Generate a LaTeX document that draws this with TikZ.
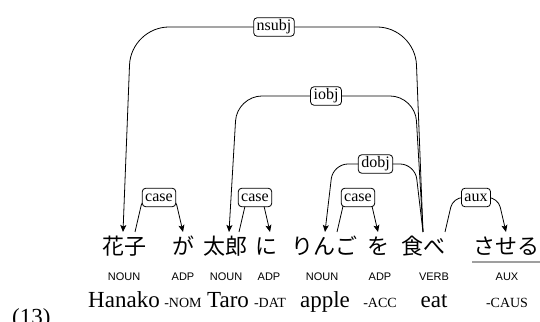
\documentclass[tikz,border=0pt]{standalone}
\usepackage{fontspec}
\setmainfont{Liberation Serif}
\newfontfamily\jpfont{Noto Sans CJK JP}
\newfontfamily\posfont{Liberation Sans}
\usetikzlibrary{arrows.meta,calc,backgrounds}
\begin{document}
\begin{tikzpicture}[x=1pt,y=1pt,
  word/.style={anchor=base,inner sep=0pt,font=\jpfont\fontsize{22}{22}\selectfont},
  postag/.style={anchor=base,inner sep=0pt,font=\posfont\fontsize{11}{11}\selectfont},
  gloss/.style={anchor=base,inner sep=0pt,font=\fontsize{23}{23}\selectfont},
  morph/.style={anchor=base,inner sep=0pt,font=\fontsize{14}{14}\selectfont},
  deplabel/.style={draw,fill=white,rounded corners=3.5pt,line width=0.8pt,inner xsep=3pt,inner ysep=2pt,text height=11pt,text depth=3.5pt,font=\fontsize{16}{16}\selectfont},
  deparc/.style={line width=0.8pt,-{Stealth[length=7pt,width=6pt,inset=1.5pt]}}
]
\useasboundingbox (0,0) rectangle (540,321);

% Japanese words
\node[word] (w1) at (124,66) {花子};
\node[word] (w2) at (183,66) {が};
\node[word] (w3) at (225,66) {太郎};
\node[word] (w4) at (266,66) {に};
\node[word] (w5) at (324,66) {りんご};
\node[word] (w6) at (378,66) {を};
\node[word] (w7) at (423,66) {食べ};
\node[word] (w8) at (506,66) {させる};

% POS tags
\node[postag] (p1) at (124,41) {NOUN};
\node[postag] (p2) at (183,41) {ADP};
\node[postag] (p3) at (226,41) {NOUN};
\node[postag] (p4) at (269,41) {ADP};
\node[postag] (p5) at (322,41) {NOUN};
\node[postag] (p6) at (380,41) {ADP};
\node[postag] (p7) at (434,41) {VERB};
\node[postag] (p8) at (507,41) {AUX};

% glosses
\node[gloss] (g1) at (124,14) {Hanako};
\node[morph] (g2) at (183,14) {-NOM};
\node[gloss] (g3) at (228,14) {Taro};
\node[morph] (g4) at (270,14) {-DAT};
\node[gloss] (g5) at (325,14) {apple};
\node[morph] (g6) at (380,14) {-ACC};
\node[gloss] (g7) at (434,14) {eat};
\node[morph] (g8) at (507,14) {-CAUS};

\node[gloss,anchor=base west] (exnum) at (12,-3) {(13)};

% underline
\coordinate (ulA) at (472,59);
\coordinate (ulB) at (540,59);
\draw[gray!75,line width=1.5pt] (ulA) -- (ulB);

% attachment points
\coordinate (w1in)  at ([xshift=-1pt,yshift=23pt]w1.base);
\coordinate (w1out) at ([xshift=11pt,yshift=23pt]w1.base);
\coordinate (w2in)  at ([yshift=23pt]w2.base);
\coordinate (w3in)  at ([xshift=4pt,yshift=23pt]w3.base);
\coordinate (w3out) at ([xshift=14pt,yshift=23pt]w3.base);
\coordinate (w4in)  at ([xshift=4pt,yshift=23pt]w4.base);
\coordinate (w5in)  at ([xshift=1pt,yshift=23pt]w5.base);
\coordinate (w5out) at ([xshift=13pt,yshift=23pt]w5.base);
\coordinate (w6in)  at ([yshift=23pt]w6.base);
\coordinate (w7out) at ([yshift=23pt]w7.base);
\coordinate (w7aux) at ([xshift=22pt,yshift=23pt]w7.base);
\coordinate (w8in)  at ([yshift=23pt]w8.base);

% labels
\node[deplabel] (lnsubj) at (274,294) {nsubj};
\node[deplabel] (liobj)  at (326,225) {iobj};
\node[deplabel] (ldobj)  at (375.5,157) {dobj};
\node[deplabel] (lcase1) at (159,123.5) {case};
\node[deplabel] (lcase2) at (255,123.5) {case};
\node[deplabel] (lcase3) at (358,123.5) {case};
\node[deplabel] (laux)   at (476,123.5) {aux};

\begin{scope}[on background layer]
\draw[deparc,rounded corners=38pt] (w7out) -- ($(w7out|-lnsubj.center)+(-8,0)$) -- ($(w1in|-lnsubj.center)+(8,0)$) -- (w1in);
\draw[deparc,rounded corners=25pt] (w7out) -- ($(w7out|-liobj.center)+(-8,0)$) -- ($(w3in|-liobj.center)+(8,0)$) -- (w3in);
\draw[deparc,rounded corners=15pt] (w7out) -- ($(w7out|-ldobj.center)+(-8,0)$) -- ($(w5in|-ldobj.center)+(8,0)$) -- (w5in);
\draw[deparc,rounded corners=8pt] (w1out) -- ($(w1out|-lcase1.center)+(8,0)$) -- ($(w2in|-lcase1.center)+(-8,0)$) -- (w2in);
\draw[deparc,rounded corners=8pt] (w3out) -- ($(w3out|-lcase2.center)+(8,0)$) -- ($(w4in|-lcase2.center)+(-8,0)$) -- (w4in);
\draw[deparc,rounded corners=8pt] (w5out) -- ($(w5out|-lcase3.center)+(8,0)$) -- ($(w6in|-lcase3.center)+(-8,0)$) -- (w6in);
\draw[deparc,rounded corners=10pt] (w7aux) -- ($(w7aux|-laux.center)+(8,0)$) -- ($(w8in|-laux.center)+(-8,0)$) -- (w8in);
\end{scope}
\end{tikzpicture}
\end{document}
